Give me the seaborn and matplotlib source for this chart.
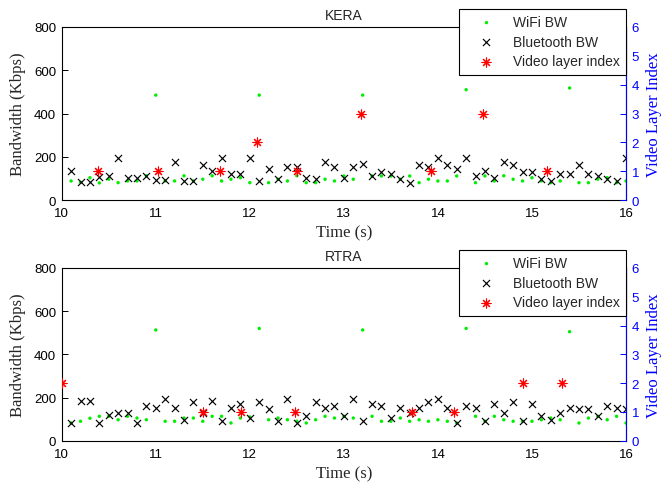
import numpy as np
import pandas as pd
import matplotlib
matplotlib.use("Agg")
import matplotlib.pyplot as plt
import seaborn as sns

# Sample times for the bandwidth traces (0.1 s steps)
time_s = np.round(np.linspace(10.1, 16.0, 60), 1)

kera_wifi = [88, 82, 103, 79, 96, 80, 88, 88, 112, 485,
             88, 88, 112, 88, 96, 112, 88, 96, 103, 80,
             485, 80, 96, 88, 112, 80, 80, 96, 88, 111,
             96, 485, 111, 111, 111, 96, 111, 80, 96, 88,
             88, 111, 510, 80, 111, 88, 112, 96, 88, 103,
             88, 80, 88, 518, 80, 80, 96, 103, 80, 88]
kera_bt = [135, 82, 82, 105, 110, 193, 102, 102, 112, 94,
           94, 174, 88, 88, 162, 133, 193, 120, 120, 193,
           88, 143, 96, 153, 153, 103, 96, 176, 151, 103,
           151, 168, 111, 128, 120, 96, 80, 160, 151, 193,
           160, 143, 193, 111, 136, 103, 176, 160, 128, 128,
           96, 88, 120, 120, 160, 120, 111, 96, 88, 193]
kera_layer_t = [10.39, 11.02, 11.68, 12.08, 12.5, 13.18, 13.93, 14.48, 15.16]
kera_layer = [1, 1, 1, 2, 1, 3, 1, 3, 1]

rtra_wifi = [82, 90, 104, 113, 113, 97, 113, 105, 97, 513,
             90, 90, 105, 105, 90, 113, 113, 82, 105, 110,
             520, 97, 105, 97, 90, 82, 97, 113, 105, 113,
             105, 513, 113, 90, 90, 105, 90, 97, 90, 97,
             90, 82, 520, 113, 90, 113, 97, 90, 90, 90,
             97, 105, 97, 505, 82, 105, 113, 97, 113, 82]
rtra_bt = [82, 185, 185, 82, 120, 130, 130, 82, 162, 153,
           193, 153, 97, 178, 130, 185, 90, 153, 170, 107,
           178, 145, 90, 193, 82, 114, 178, 153, 162, 113,
           193, 90, 170, 162, 105, 153, 130, 153, 178, 193,
           153, 82, 162, 153, 90, 170, 130, 178, 90, 170,
           113, 97, 130, 153, 145, 145, 113, 162, 153, 145]
rtra_layer_t = [10.0, 11.505, 11.91, 12.48, 13.72, 14.17, 14.9, 15.32]
rtra_layer = [2, 1, 1, 1, 1, 1, 2, 2]

panels = [
    ("KERA", kera_wifi, kera_bt, kera_layer_t, kera_layer),
    ("RTRA", rtra_wifi, rtra_bt, rtra_layer_t, rtra_layer),
]

x_ticks = [10, 11, 12, 13, 14, 15, 16]
bw_ticks = [0, 200, 400, 600, 800]
layer_ticks = [0, 1, 2, 3, 4, 5, 6]

sns.set_style("white")
plt.rcParams["font.family"] = ["Liberation Sans", "DejaVu Sans"]

SERIF = ["Liberation Serif", "DejaVu Serif"]
BLUE = "#0000ff"
GREEN = "#00ee00"
ASTERISK = (8, 2, 0)

fig = plt.figure(figsize=(6.62, 4.85), dpi=100)
W, H = 662.0, 485.0
ax_left, ax_right = 61.7 / W, 626.0 / W
rows = [(28.0, 201.0), (269.0, 441.7)]

for (name, wifi, bt, lt, lv), (top_px, bot_px) in zip(panels, rows):
    ax = fig.add_axes([ax_left, 1 - bot_px / H, ax_right - ax_left, (bot_px - top_px) / H])
    ax2 = ax.twinx()

    df = pd.DataFrame({"t": time_s, "wifi": wifi, "bt": bt})
    dl = pd.DataFrame({"t": lt, "layer": lv})

    sns.scatterplot(data=df, x="t", y="wifi", ax=ax, marker="o", s=6,
                    color=GREEN, edgecolor="none", linewidth=0, label="WiFi BW",
                    legend=False, zorder=3)
    sns.scatterplot(data=df, x="t", y="bt", ax=ax, marker="x", s=26,
                    color="black", linewidth=0.85, label="Bluetooth BW",
                    legend=False, zorder=4)
    sns.scatterplot(data=dl, x="t", y="layer", ax=ax2, marker=ASTERISK, s=42,
                    color="red", linewidth=0.8, label="Video layer index",
                    legend=False, zorder=5)

    ax.set_xlim(10, 16)
    ax.set_ylim(0, 800)
    ax2.set_ylim(0, 6)
    ax.set_xticks(x_ticks)
    ax.set_yticks(bw_ticks)
    ax2.set_yticks(layer_ticks)

    ax.tick_params(axis="both", direction="in", length=4, width=0.7,
                   labelsize=9.5, colors="black", pad=4)
    ax.tick_params(axis="y", right=False)
    ax.tick_params(axis="x", top=False, pad=5)
    ax2.tick_params(axis="y", direction="in", length=4, width=0.7,
                    labelsize=9.5, colors=BLUE, pad=4)

    for sp in ax.spines.values():
        sp.set_color("black")
        sp.set_linewidth(0.8)
    for key in ("left", "top", "bottom"):
        ax2.spines[key].set_visible(False)
    ax2.spines["right"].set_color(BLUE)
    ax2.spines["right"].set_linewidth(0.8)

    ax.set_xlabel("Time (s)", fontfamily=SERIF, fontsize=12, labelpad=4)
    ax.set_ylabel("Bandwidth (Kbps)", fontfamily=SERIF, fontsize=12, labelpad=6)
    ax2.set_ylabel("Video Layer Index", fontfamily=SERIF, fontsize=12,
                   color=BLUE, labelpad=5)
    ax.set_title(name, fontsize=10, pad=6)

    h1, l1 = ax.get_legend_handles_labels()
    h2, l2 = ax2.get_legend_handles_labels()
    leg_top = 1 - (top_px - 18.0) / H
    leg = ax2.legend(h1 + h2, l1 + l2, loc="upper right",
                     bbox_to_anchor=(ax_right, leg_top),
                     bbox_transform=fig.transFigure, fontsize=10,
                     frameon=True, fancybox=False, framealpha=1,
                     edgecolor="black", borderpad=0.45, labelspacing=0.4,
                     handlelength=3.0, handletextpad=0.4, borderaxespad=0,
                     scatterpoints=1)
    leg.get_frame().set_linewidth(0.8)

fig.savefig("out.png", dpi=100)
